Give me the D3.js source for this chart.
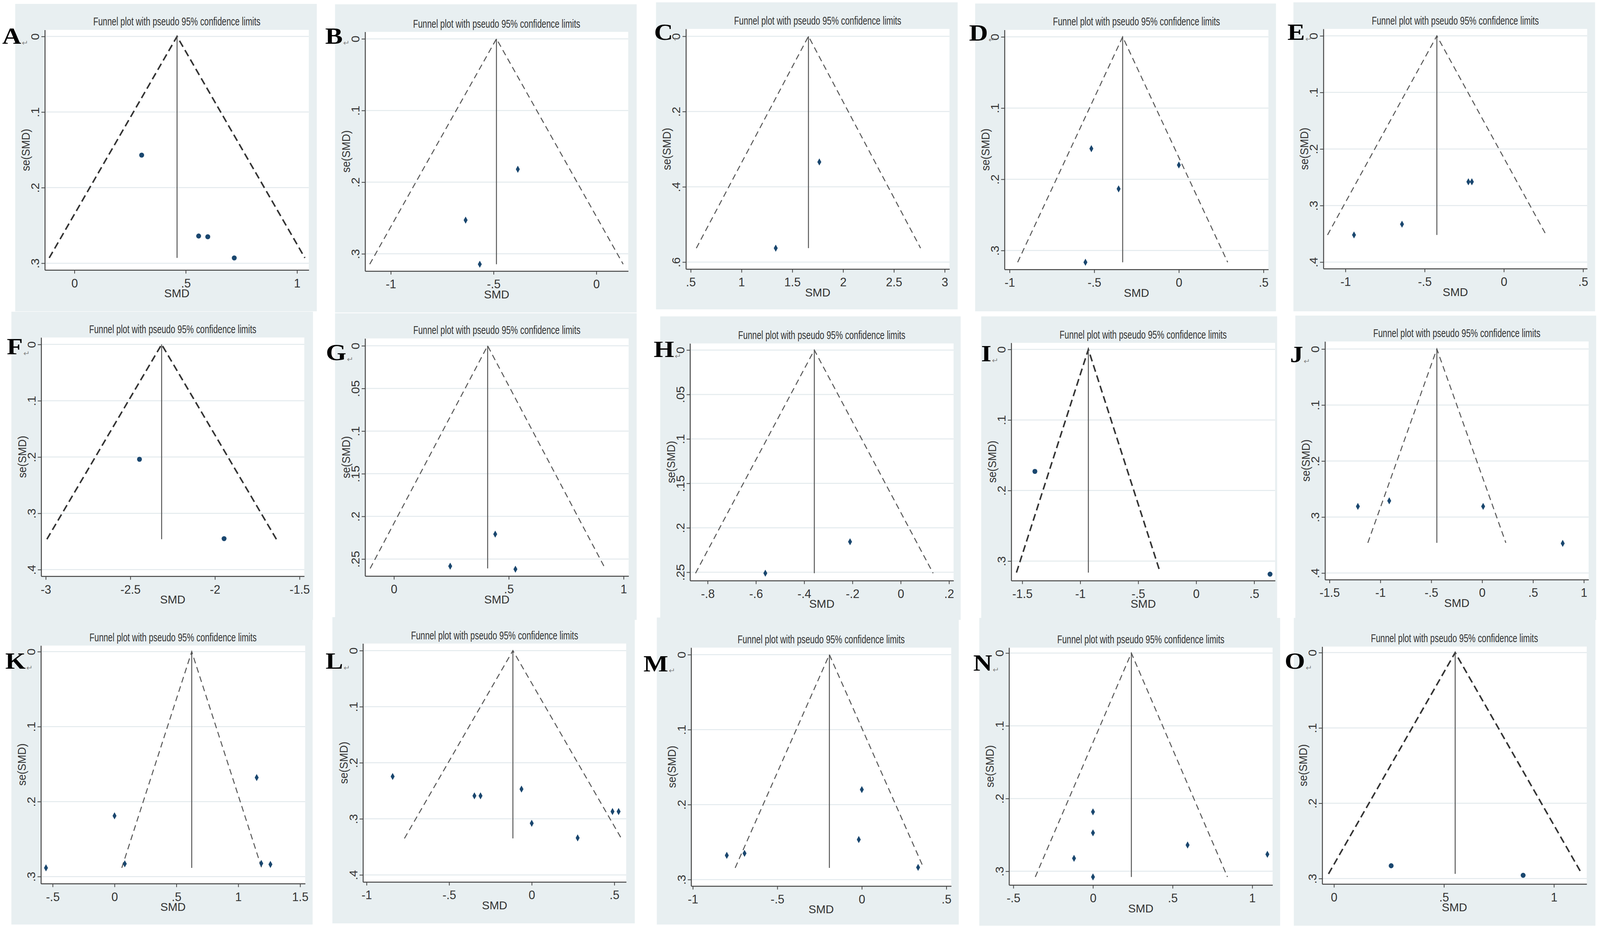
<!DOCTYPE html>
<html>
<head>
<meta charset="utf-8">
<script src="https://cdn.jsdelivr.net/npm/d3@7"></script>
<style>
  html, body { margin: 0; padding: 0; overflow: hidden; background: #fff; }
  #chart { display: block; width: 100vw; height: 100vh; }
</style>
</head>
<body>
<svg id="chart"></svg>
<script>
// panel letters
var letters = ["A","B","C","D","E","F","G","H","I","J","K","L","M","N","O"];

// pooled SMD (apex of the funnel) and largest se (base of the funnel)
var theta = [0.461, -0.486, 1.659, -0.332, -0.423, -2.315, 0.408, -0.358, -0.930, -0.445, 0.624, -0.114, -0.192, 0.241, 0.551];
var seMax = [0.293, 0.3145, 0.563, 0.3165, 0.352, 0.346, 0.261, 0.2511, 0.3164, 0.346, 0.2884, 0.335, 0.2844, 0.3078, 0.2938];

// study points: SMD and se(SMD), one list per panel
var smd = [
  [0.302, 0.558, 0.599, 0.718],
  [-0.636, -0.382, -0.567],
  [1.766, 1.337],
  [-0.517, 0.0, -0.356, -0.552],
  [-0.946, -0.643, -0.224, -0.202],
  [-2.446, -1.946],
  [0.441, 0.245, 0.529],
  [-0.210, -0.561],
  [-1.391, 0.637],
  [-1.221, -0.913, 0.010, 0.792],
  [-0.554, 0.0, 0.083, 1.149, 1.186, 1.260],
  [-0.842, -0.347, -0.310, -0.062, 0.0, 0.278, 0.489, 0.526],
  [-0.799, -0.694, 0.0, -0.018, 0.333],
  [0.0, 0.0, -0.119, 0.0, 0.594, 1.095],
  [0.260, 0.860]
];
var se = [
  [0.157, 0.264, 0.265, 0.293],
  [0.253, 0.182, 0.3145],
  [0.334, 0.563],
  [0.157, 0.180, 0.2135, 0.3165],
  [0.352, 0.333, 0.258, 0.258],
  [0.204, 0.345],
  [0.2208, 0.2584, 0.2619],
  [0.2157, 0.2511],
  [0.1729, 0.3186],
  [0.281, 0.271, 0.281, 0.347],
  [0.2884, 0.219, 0.283, 0.168, 0.2825, 0.2838],
  [0.2245, 0.259, 0.259, 0.247, 0.308, 0.334, 0.287, 0.287],
  [0.2677, 0.265, 0.180, 0.2466, 0.2838],
  [0.2183, 0.2472, 0.2822, 0.3078, 0.2639, 0.2767],
  [0.283, 0.2957]
];

// axis ticks
var xTicks = [
  [0, .5, 1], [-1, -.5, 0], [.5, 1, 1.5, 2, 2.5, 3], [-1, -.5, 0, .5], [-1, -.5, 0, .5],
  [-3, -2.5, -2, -1.5], [0, .5, 1], [-.8, -.6, -.4, -.2, 0, .2], [-1.5, -1, -.5, 0, .5], [-1.5, -1, -.5, 0, .5, 1],
  [-.5, 0, .5, 1, 1.5], [-1, -.5, 0, .5], [-1, -.5, 0, .5], [-.5, 0, .5, 1], [0, .5, 1]
];
var yTicks = [
  [0, .1, .2, .3], [0, .1, .2, .3], [0, .2, .4, .6], [0, .1, .2, .3], [0, .1, .2, .3, .4],
  [0, .1, .2, .3, .4], [0, .05, .1, .15, .2, .25], [0, .05, .1, .15, .2, .25], [0, .1, .2, .3], [0, .1, .2, .3, .4],
  [0, .1, .2, .3], [0, .1, .2, .3, .4], [0, .1, .2, .3], [0, .1, .2, .3], [0, .1, .2, .3]
];
var xDomains = [
  [-0.133, 1.053], [-1.125, 0.155], [0.453, 3.047], [-1.030, 0.529], [-1.139, 0.526],
  [-3.027, -1.472], [-0.1256, 1.022], [-0.873, 0.219], [-1.595, 0.681], [-1.544, 1.0465],
  [-0.595, 1.541], [-1.0217, 0.572], [-1.01, 0.529], [-0.527, 1.1275], [-0.0535, 1.149]
];
var yDomains = [
  [-0.0087, 0.309], [-0.0097, 0.324], [-0.0196, 0.6185], [-0.0098, 0.3266], [-0.0123, 0.4116],
  [-0.0124, 0.4117], [-0.0086, 0.2699], [-0.0074, 0.2594], [-0.0093, 0.3277], [-0.0135, 0.4117],
  [-0.0081, 0.3094], [-0.0126, 0.4126], [-0.0094, 0.3086], [-0.0075, 0.3189], [-0.008, 0.3072]
];

var titleText = "Funnel plot with pseudo 95% confidence limits";

// ---- layout (pixels of a 4212 x 2381 canvas) ----
var W = 4212, H = 2381;
// grey panel boxes [x0, y0, x1, y1]
var boxes = [
  [40, 10, 834, 797], [882, 11, 1676, 800], [1727, 6, 2521, 792], [2567, 9, 3359, 797], [3405, 6, 4199, 797],
  [30, 798, 824, 1587], [882, 802, 1676, 1587], [1738, 810, 2529, 1587], [2583, 810, 3362, 1587], [3410, 808, 4202, 1587],
  [30, 1583, 823, 2367], [875, 1580, 1671, 2364], [1729, 1581, 2524, 2367], [2578, 1582, 3370, 2370], [3406, 1582, 4200, 2370]
];
// white plot regions [left, top, right, bottom]
var plots = [
  [118, 76.5, 813, 691.3], [961.1, 81.6, 1653.8, 693.9], [1805.7, 74, 2499.5, 688.8], [2644.4, 76.5, 3339.1, 689.8], [3483.9, 74, 4178.3, 687.8],
  [108.4, 864, 801, 1475.2], [961.1, 866.5, 1654.9, 1474.7], [1816.5, 879.3, 2510.3, 1486.4], [2662.1, 877.8, 3356.8, 1486.4], [3488.1, 874.2, 4182, 1483.9],
  [107.7, 1652.8, 803.4, 2262.2], [955.5, 1647.6, 1648.5, 2258], [1819.4, 1658, 2504.1, 2268.4], [2656.3, 1658, 3350, 2265.8], [3480.7, 1655.4, 4177, 2263.2]
];
// panel letter anchor (left, baseline)
var letterPos = [
  [6, 112], [856, 112], [1722, 102], [2551, 104], [3389, 102],
  [18, 907], [858, 922], [1721, 914], [2583, 925], [3396, 927],
  [14, 1712], [857, 1712], [1694, 1719], [2562, 1717], [3382, 1712]
];
// panels drawn with large round markers and heavier dashes
var heavy = [true, false, false, false, false, true, false, false, true, false, false, false, false, false, true];

var sans = "'Liberation Sans Narrow','Liberation Sans',Arial,sans-serif";
var navy = "#1a476f";

var svg = d3.select("#chart")
    .attr("viewBox", "0 0 " + W + " " + H)
    .attr("preserveAspectRatio", "none")
    .style("background", "#fff");

// stata style number labels: .5, -.5, 0
function fmt(v) {
  var s = String(+v.toFixed(3));
  return s.replace(/^(-?)0\./, "$1.");
}

letters.forEach(function(letter, i) {
  var b = boxes[i], p = plots[i];
  var g = svg.append("g");

  g.append("rect")
    .attr("x", b[0]).attr("y", b[1])
    .attr("width", b[2] - b[0]).attr("height", b[3] - b[1])
    .attr("fill", "#e8eff1");

  g.append("rect")
    .attr("x", p[0]).attr("y", p[1])
    .attr("width", p[2] - p[0]).attr("height", p[3] - p[1])
    .attr("fill", "#fff");

  var x = d3.scaleLinear().domain(xDomains[i]).range([p[0], p[2]]);
  var y = d3.scaleLinear().domain(yDomains[i]).range([p[1], p[3]]);

  // grid lines
  g.selectAll(".grid")
    .data(yTicks[i])
    .enter().append("line")
      .attr("x1", p[0]).attr("x2", p[2])
      .attr("y1", function(d) { return y(d); })
      .attr("y2", function(d) { return y(d); })
      .attr("stroke", "#e3eaed")
      .attr("stroke-width", 2.5);

  // x axis
  var xAxis = g.append("g")
    .attr("transform", "translate(0," + p[3] + ")")
    .attr("color", "#444")
    .call(d3.axisBottom(x).tickValues(xTicks[i]).tickFormat(fmt).tickSize(9).tickSizeOuter(0));
  xAxis.select(".domain").attr("stroke-width", 2.5);
  xAxis.selectAll(".tick line").attr("stroke-width", 2);
  xAxis.selectAll(".tick text")
    .attr("y", 15).attr("dy", "0.95em")
    .attr("fill", "#333")
    .style("font-family", sans).style("font-size", "31px");

  // y axis with vertical labels
  var yAxis = g.append("g")
    .attr("transform", "translate(" + p[0] + ",0)")
    .attr("color", "#444")
    .call(d3.axisLeft(y).tickValues(yTicks[i]).tickFormat(fmt).tickSize(9).tickSizeOuter(0));
  yAxis.select(".domain").attr("stroke-width", 2.5);
  yAxis.selectAll(".tick line").attr("stroke-width", 2);
  yAxis.selectAll(".tick text")
    .attr("transform", "rotate(-90)")
    .attr("x", 0).attr("y", -15).attr("dy", 0)
    .attr("text-anchor", "middle")
    .attr("fill", "#333")
    .style("font-family", sans).style("font-size", "31px");

  // axis titles
  g.append("text")
    .attr("x", (p[0] + p[2]) / 2).attr("y", p[3] + 70)
    .attr("text-anchor", "middle")
    .attr("fill", "#333")
    .style("font-family", sans).style("font-size", "30px")
    .text("SMD");
  g.append("text")
    .attr("transform", "translate(" + (p[0] - 40) + "," + ((p[1] + p[3]) / 2) + ") rotate(-90)")
    .attr("text-anchor", "middle")
    .attr("fill", "#333")
    .attr("textLength", 108).attr("lengthAdjust", "spacingAndGlyphs")
    .style("font-family", sans).style("font-size", "30px")
    .text("se(SMD)");

  // title
  g.append("text")
    .attr("x", (p[0] + p[2]) / 2).attr("y", p[1] - 11)
    .attr("text-anchor", "middle")
    .attr("fill", "#333")
    .attr("textLength", 440).attr("lengthAdjust", "spacingAndGlyphs")
    .style("font-family", sans).style("font-size", "29px")
    .text(titleText);

  // funnel limits
  var t = theta[i], s = seMax[i];
  var funnel = [[t - 1.96 * s, s], [t, 0], [t + 1.96 * s, s]];
  g.append("path")
    .datum(funnel)
    .attr("d", d3.line().x(function(d) { return x(d[0]); }).y(function(d) { return y(d[1]); }))
    .attr("fill", "none")
    .attr("stroke", heavy[i] ? "#333" : "#555")
    .attr("stroke-width", heavy[i] ? 4 : 2.6)
    .attr("stroke-dasharray", heavy[i] ? "18,10" : "15,10");

  g.append("line")
    .attr("x1", x(t)).attr("x2", x(t))
    .attr("y1", y(0)).attr("y2", y(s))
    .attr("stroke", "#555")
    .attr("stroke-width", 2.5);

  // study points
  var pts = smd[i].map(function(v, k) { return [v, se[i][k]]; });
  var sym = heavy[i]
    ? d3.symbol().type(d3.symbolCircle).size(130)
    : d3.symbol().type(d3.symbolDiamond).size(95);
  g.selectAll(".pt")
    .data(pts)
    .enter().append("path")
      .attr("d", sym)
      .attr("transform", function(d) { return "translate(" + x(d[0]) + "," + y(d[1]) + ")"; })
      .attr("fill", navy);

  // panel letter
  var lt = g.append("text")
    .attr("transform", "translate(" + letterPos[i][0] + "," + letterPos[i][1] + ") scale(1.15,1)")
    .attr("fill", "#000")
    .style("font-family", "'Liberation Serif','Times New Roman',serif")
    .style("font-weight", "bold")
    .style("font-size", "60px")
    .text(letter);
  lt.append("tspan")
    .attr("dx", 1).attr("dy", 4)
    .attr("fill", "#888")
    .style("font-family", "'DejaVu Sans',sans-serif")
    .style("font-weight", "normal")
    .style("font-size", "18px")
    .text("\u21B5");
});
</script>
</body>
</html>
